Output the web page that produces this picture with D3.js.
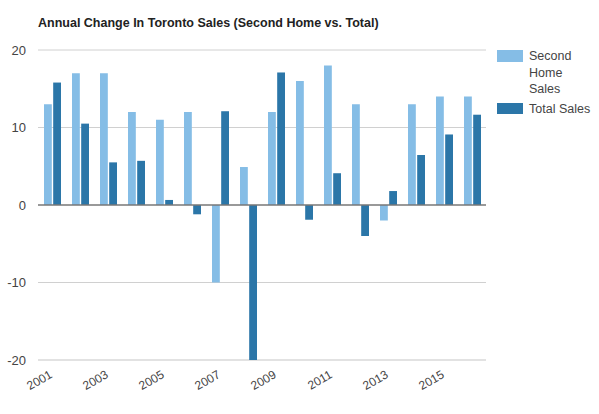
<!DOCTYPE html>
<html>
<head>
<meta charset="utf-8">
<script src="https://cdn.jsdelivr.net/npm/d3@7"></script>
<style>
  body { margin: 0; background: #fff; }
  text { font-family: Arial, "Liberation Sans", sans-serif; }
</style>
</head>
<body>
<div class="wrapper"></div>
<script>
const years = ['2001', '2002', '2003', '2004', '2005', '2006', '2007', '2008',
  '2009', '2010', '2011', '2012', '2013', '2014', '2015', '2016']
const secondHome = [13, 17, 17, 12, 11, 12, -10, 4.9, 12, 16, 18, 13, -2, 13, 14, 14]
const totalSales = [15.8, 10.5, 5.5, 5.7, 0.65, -1.2, 12.1, -20, 17.1, -1.9, 4.1, -4, 1.8, 6.45, 9.1, 11.65]
const seriesNames = ['Second Home Sales', 'Total Sales']
const yTicks = [-20, -10, 0, 10, 20]
const xTickLabels = ['2001', '2003', '2005', '2007', '2009', '2011', '2013', '2015']

const width = 599, height = 414
const margin = { top: 50, right: 113, bottom: 54, left: 38 }

const colors = ['#85bde6', '#2b76a8']

const svg = d3.select('.wrapper')
  .append('svg')
  .attr('width', width)
  .attr('height', height)

svg.append('text')
  .attr('x', 38)
  .attr('y', 27)
  .attr('font-size', '12.5px')
  .attr('font-weight', 'bold')
  .attr('fill', '#222')
  .text('Annual Change In Toronto Sales (Second Home vs. Total)')

const x = d3.scaleBand()
  .domain(years)
  .range([margin.left, width - margin.right])

const x1 = d3.scaleBand()
  .domain([0, 1])
  .range([6, x.bandwidth() - 5])
  .paddingInner(0.15)

const y = d3.scaleLinear()
  .domain([-20, 20])
  .range([height - margin.bottom, margin.top])

// gridlines
svg.append('g')
  .selectAll('line')
  .data(yTicks.filter(d => d !== 0))
  .enter().append('line')
  .attr('x1', margin.left)
  .attr('x2', width - margin.right)
  .attr('y1', d => y(d))
  .attr('y2', d => y(d))
  .attr('stroke', d => d === -20 ? '#e2e2e2' : '#d0d0d0')
  .attr('stroke-width', d => d === -20 ? 2 : 1)

// y tick labels
svg.append('g')
  .selectAll('text')
  .data(yTicks)
  .enter().append('text')
  .attr('x', 26)
  .attr('y', d => y(d))
  .attr('dy', '0.35em')
  .attr('text-anchor', 'end')
  .attr('font-size', '13px')
  .attr('fill', '#444')
  .text(d => d)

const series = [secondHome, totalSales]

const groups = svg.append('g')
  .selectAll('g')
  .data(years)
  .enter().append('g')
  .attr('transform', d => `translate(${x(d)}, 0)`)

groups.selectAll('rect')
  .data((d, i) => series.map((s, k) => ({ k, v: s[i] })))
  .enter().append('rect')
  .attr('x', d => x1(d.k))
  .attr('width', x1.bandwidth())
  .attr('y', d => y(Math.max(0, d.v)))
  .attr('height', d => Math.abs(y(d.v) - y(0)))
  .attr('fill', d => colors[d.k])

// zero line
svg.append('line')
  .attr('x1', margin.left)
  .attr('x2', width - margin.right)
  .attr('y1', y(0))
  .attr('y2', y(0))
  .attr('stroke', '#777')
  .attr('stroke-width', 1.5)

// x labels
svg.append('g')
  .selectAll('text')
  .data(xTickLabels)
  .enter().append('text')
  .attr('text-anchor', 'end')
  .attr('font-size', '12px')
  .attr('fill', '#444')
  .attr('transform', d => `translate(${x(d) + x.bandwidth() / 2 + 1}, ${height - margin.bottom + 17}) rotate(-30)`)
  .text(d => d)

// legend
const legend = svg.append('g')
  .attr('transform', 'translate(497, 50)')

legend.append('rect')
  .attr('width', 26).attr('height', 12)
  .attr('fill', colors[0])

legend.append('text')
  .attr('x', 32)
  .attr('y', 6)
  .attr('font-size', '12.5px')
  .attr('fill', '#444')
  .selectAll('tspan')
  .data(['Second', 'Home', 'Sales'])
  .enter().append('tspan')
  .attr('x', 32)
  .attr('dy', (d, i) => i === 0 ? '0.35em' : 16.5)
  .text(d => d)

legend.append('rect')
  .attr('y', 53)
  .attr('width', 26).attr('height', 11)
  .attr('fill', colors[1])

legend.append('text')
  .attr('x', 32)
  .attr('y', 58.5)
  .attr('dy', '0.35em')
  .attr('font-size', '12.5px')
  .attr('fill', '#444')
  .text(seriesNames[1])
</script>
</body>
</html>
